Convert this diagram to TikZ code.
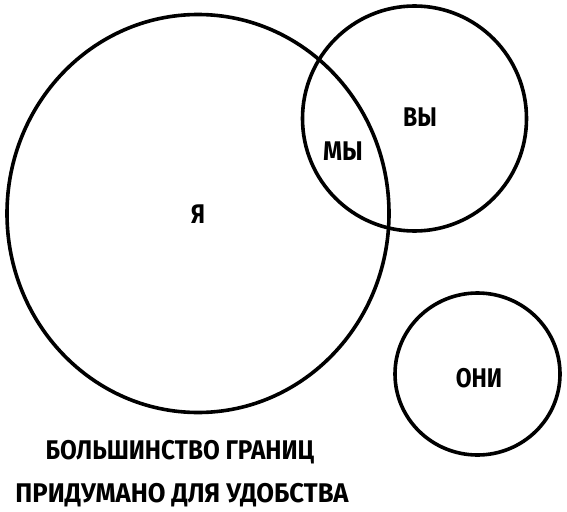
\documentclass[tikz,border=0pt]{standalone}
\usepackage{fontspec}
\setmainfont{Fira Sans}
\begin{document}
\begin{tikzpicture}[x=1pt,y=-1pt,
  ring/.style={draw=black,line width=3.6pt},
  lbl/.style={font=\fontsize{27}{29}\selectfont\bfseries, inner sep=0pt},
  captiontext/.style={font=\fontsize{27}{30}\selectfont\bfseries, inner sep=0pt}]
\useasboundingbox (0,0) rectangle (567,511);
\draw[ring] (198,213.5) ellipse [x radius=191, y radius=199];
\draw[ring] (414.5,118.5) ellipse [x radius=112, y radius=112.5];
\draw[ring] (477.5,374) ellipse [x radius=82.5, y radius=81];
\node[lbl] (ya) at (198,214) {\scalebox{0.85}[1]{Я}};
\node[lbl] (my) at (343,151) {\scalebox{0.9}[1]{МЫ}};
\node[lbl] (vy) at (420,117) {\scalebox{0.85}[1]{ВЫ}};
\node[lbl] (oni) at (479,378) {\scalebox{0.85}[1]{ОНИ}};
\node[captiontext] (l1) at (180,452) {\scalebox{0.9}[1]{БОЛЬШИНСТВО ГРАНИЦ}};
\node[captiontext] (l2) at (182,495) {\scalebox{0.95}[1]{ПРИДУМАНО ДЛЯ УДОБСТВА}};
\end{tikzpicture}
\end{document}
